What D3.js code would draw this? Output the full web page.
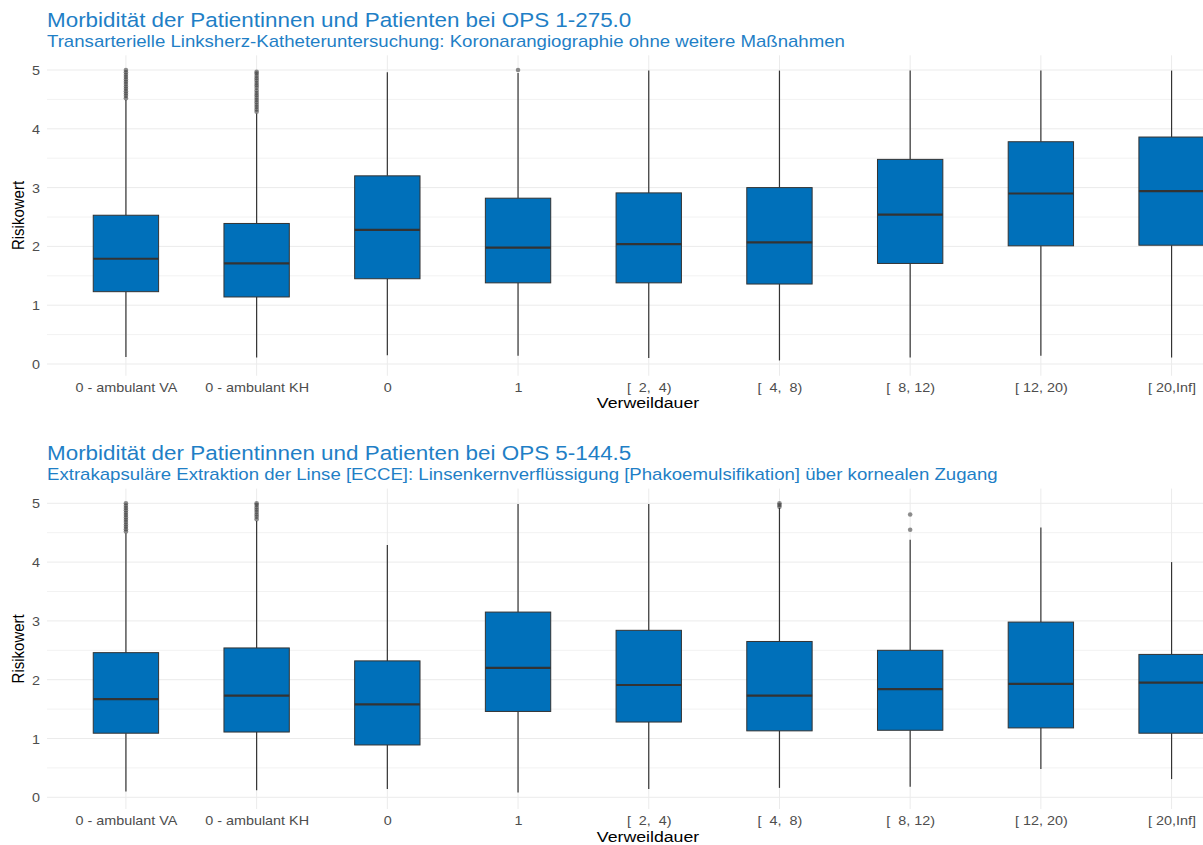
<!DOCTYPE html>
<html>
<head>
<meta charset="utf-8">
<script src="https://cdn.jsdelivr.net/npm/d3@7"></script>
<style>
  html, body { margin: 0; padding: 0; background: #fff; }
  svg text { font-family: "Liberation Sans", Arial, sans-serif; }
</style>
</head>
<body>
<svg id="chart" width="1203" height="845"></svg>
<script>
// ---------- data ----------
const categories = ["0 - ambulant VA", "0 - ambulant KH", "0", "1", "[  2,  4)", "[  4,  8)", "[  8, 12)", "[ 12, 20)", "[ 20,Inf]"];
const yTicks = [0, 1, 2, 3, 4, 5];
const yMinor = [0.5, 1.5, 2.5, 3.5, 4.5];

// Panel 1: OPS 1-275.0
const title1 = "Morbidität der Patientinnen und Patienten bei OPS 1-275.0";
const subtitle1 = "Transarterielle Linksherz-Katheteruntersuchung: Koronarangiographie ohne weitere Maßnahmen";
const low1    = [0.12, 0.11, 0.15, 0.14, 0.10, 0.06, 0.11, 0.14, 0.11];
const q1_1    = [1.23, 1.14, 1.45, 1.38, 1.38, 1.36, 1.71, 2.01, 2.02];
const median1 = [1.79, 1.71, 2.28, 1.98, 2.04, 2.07, 2.54, 2.90, 2.94];
const q3_1    = [2.53, 2.39, 3.20, 2.82, 2.91, 3.00, 3.48, 3.78, 3.86];
const high1   = [4.49, 4.26, 4.96, 4.95, 4.99, 4.99, 4.99, 4.99, 4.99];
const outliers1 = [
  [4.52, 4.56, 4.60, 4.64, 4.68, 4.72, 4.76, 4.80, 4.84, 4.88, 4.92, 4.96, 5.00],
  [4.29, 4.33, 4.37, 4.41, 4.45, 4.49, 4.53, 4.57, 4.61, 4.65, 4.70, 4.74, 4.78, 4.82, 4.86, 4.90, 4.94, 4.97],
  [],
  [5.00],
  [], [], [], [], []
];

// Panel 2: OPS 5-144.5
const title2 = "Morbidität der Patientinnen und Patienten bei OPS 5-144.5";
const subtitle2 = "Extrakapsuläre Extraktion der Linse [ECCE]: Linsenkernverflüssigung [Phakoemulsifikation] über kornealen Zugang";
const low2    = [0.10, 0.12, 0.14, 0.08, 0.14, 0.16, 0.18, 0.48, 0.31];
const q1_2    = [1.09, 1.11, 0.89, 1.46, 1.28, 1.13, 1.14, 1.18, 1.09];
const median2 = [1.67, 1.73, 1.58, 2.20, 1.91, 1.73, 1.84, 1.93, 1.95];
const q3_2    = [2.46, 2.54, 2.32, 3.15, 2.84, 2.65, 2.50, 2.98, 2.43];
const high2   = [4.49, 4.70, 4.29, 4.99, 4.99, 4.92, 4.38, 4.59, 4.00];
const outliers2 = [
  [4.52, 4.56, 4.60, 4.64, 4.68, 4.72, 4.76, 4.80, 4.84, 4.88, 4.92, 4.96, 5.00],
  [4.73, 4.77, 4.81, 4.85, 4.89, 4.93, 4.97, 5.00],
  [],
  [],
  [],
  [4.94, 4.97, 5.00],
  [4.55, 4.81],
  [],
  []
];

const xTitle = "Verweildauer";
const yTitle = "Risikowert";

// ---------- drawing ----------
const W = 1203, H = 845;
const svg = d3.select("#chart");
svg.append("rect").attr("width", W).attr("height", H).attr("fill", "#fff");

const SX = 1.15;            // horizontal text stretch of the original rendering
const titleColor = "#1f7fc6";
const boxFill = "#0070ba";
const lineCol = "#333333";
const gridCol = "#ebebeb";

const x = d3.scalePoint().domain(categories).range([47.5, 1250]).padding(0.6);
const boxW = x.step() * 0.5;

function stretchedText(g, tx, ty, str, opts) {
  const t = g.append("text")
    .attr("transform", `translate(${tx},${ty}) scale(${SX},1)` + (opts.rotate ? ` rotate(${opts.rotate})` : ""))
    .attr("text-anchor", opts.anchor || "start")
    .attr("font-size", opts.size)
    .attr("fill", opts.fill)
    .style("white-space", "pre")
    .text(str);
  if (opts.dy) t.attr("dy", opts.dy);
  return t;
}

function drawPanel(offset, title, subtitle, low, q1, med, q3, high, outl) {
  const g = svg.append("g").attr("transform", `translate(0,${offset})`);
  const y = d3.scaleLinear().domain([0, 5]).range([364, 70]);
  const top = y(5.25), bottom = y(-0.2);

  // titles
  stretchedText(g, 47, 27, title, { size: 19.5, fill: titleColor });
  stretchedText(g, 47, 47, subtitle, { size: 16.2, fill: titleColor });

  // grid
  g.append("g").selectAll("line.minor").data(yMinor).join("line")
    .attr("x1", 47).attr("x2", W).attr("y1", d => y(d)).attr("y2", d => y(d))
    .attr("stroke", "#f2f2f2").attr("stroke-width", 1);
  g.append("g").selectAll("line.major").data(yTicks).join("line")
    .attr("x1", 47).attr("x2", W).attr("y1", d => y(d)).attr("y2", d => y(d))
    .attr("stroke", gridCol).attr("stroke-width", 1);
  g.append("g").selectAll("line.vg").data(categories).join("line")
    .attr("x1", d => x(d)).attr("x2", d => x(d)).attr("y1", top).attr("y2", bottom)
    .attr("stroke", gridCol).attr("stroke-width", 1);

  // y axis labels
  const yAxis = d3.axisLeft(y).tickValues(yTicks).tickSize(0).tickPadding(0).tickFormat(d3.format("d"));
  const ya = g.append("g").attr("transform", "translate(40,0)").call(yAxis);
  ya.select(".domain").remove();
  ya.selectAll("text").remove();
  ya.selectAll(".tick").each(function(d) {
    stretchedText(d3.select(this), 0, 0, String(d), { size: 12.5, fill: "#4d4d4d", anchor: "end", dy: "0.36em" });
  });

  // x axis labels
  const xAxis = d3.axisBottom(x).tickSize(0).tickPadding(0);
  const xa = g.append("g").attr("transform", "translate(0,391.5)").call(xAxis);
  xa.select(".domain").remove();
  xa.selectAll("text").remove();
  xa.selectAll(".tick").each(function(d) {
    stretchedText(d3.select(this), 0, 0, d, { size: 12.5, fill: "#4d4d4d", anchor: "middle" });
  });

  // axis titles
  stretchedText(g, 648, 408.2, xTitle, { size: 15.4, fill: "#000", anchor: "middle" });
  stretchedText(g, 24, (top + bottom) / 2, yTitle, { size: 15, fill: "#000", anchor: "middle", rotate: -90 });

  // boxes
  const rows = categories.map((c, i) => ({ c, lo: low[i], q1: q1[i], med: med[i], q3: q3[i], hi: high[i], out: outl[i] }));
  const b = g.append("g").selectAll("g").data(rows).join("g");
  b.append("line")
    .attr("x1", d => x(d.c)).attr("x2", d => x(d.c))
    .attr("y1", d => y(d.q3)).attr("y2", d => y(d.hi))
    .attr("stroke", lineCol).attr("stroke-width", 1.2);
  b.append("line")
    .attr("x1", d => x(d.c)).attr("x2", d => x(d.c))
    .attr("y1", d => y(d.q1)).attr("y2", d => y(d.lo))
    .attr("stroke", lineCol).attr("stroke-width", 1.2);
  b.append("rect")
    .attr("x", d => x(d.c) - boxW / 2).attr("width", boxW)
    .attr("y", d => y(d.q3)).attr("height", d => y(d.q1) - y(d.q3))
    .attr("fill", boxFill).attr("stroke", lineCol).attr("stroke-width", 1);
  b.append("line")
    .attr("x1", d => x(d.c) - boxW / 2).attr("x2", d => x(d.c) + boxW / 2)
    .attr("y1", d => y(d.med)).attr("y2", d => y(d.med))
    .attr("stroke", lineCol).attr("stroke-width", 2.2);
  b.selectAll("circle").data(d => d.out.map(v => ({ c: d.c, v }))).join("circle")
    .attr("cx", d => x(d.c)).attr("cy", d => y(d.v)).attr("r", 2.3)
    .attr("fill", lineCol).attr("fill-opacity", 0.55);
}

drawPanel(0, title1, subtitle1, low1, q1_1, median1, q3_1, high1, outliers1);
drawPanel(433.3, title2, subtitle2, low2, q1_2, median2, q3_2, high2, outliers2);
</script>
</body>
</html>
